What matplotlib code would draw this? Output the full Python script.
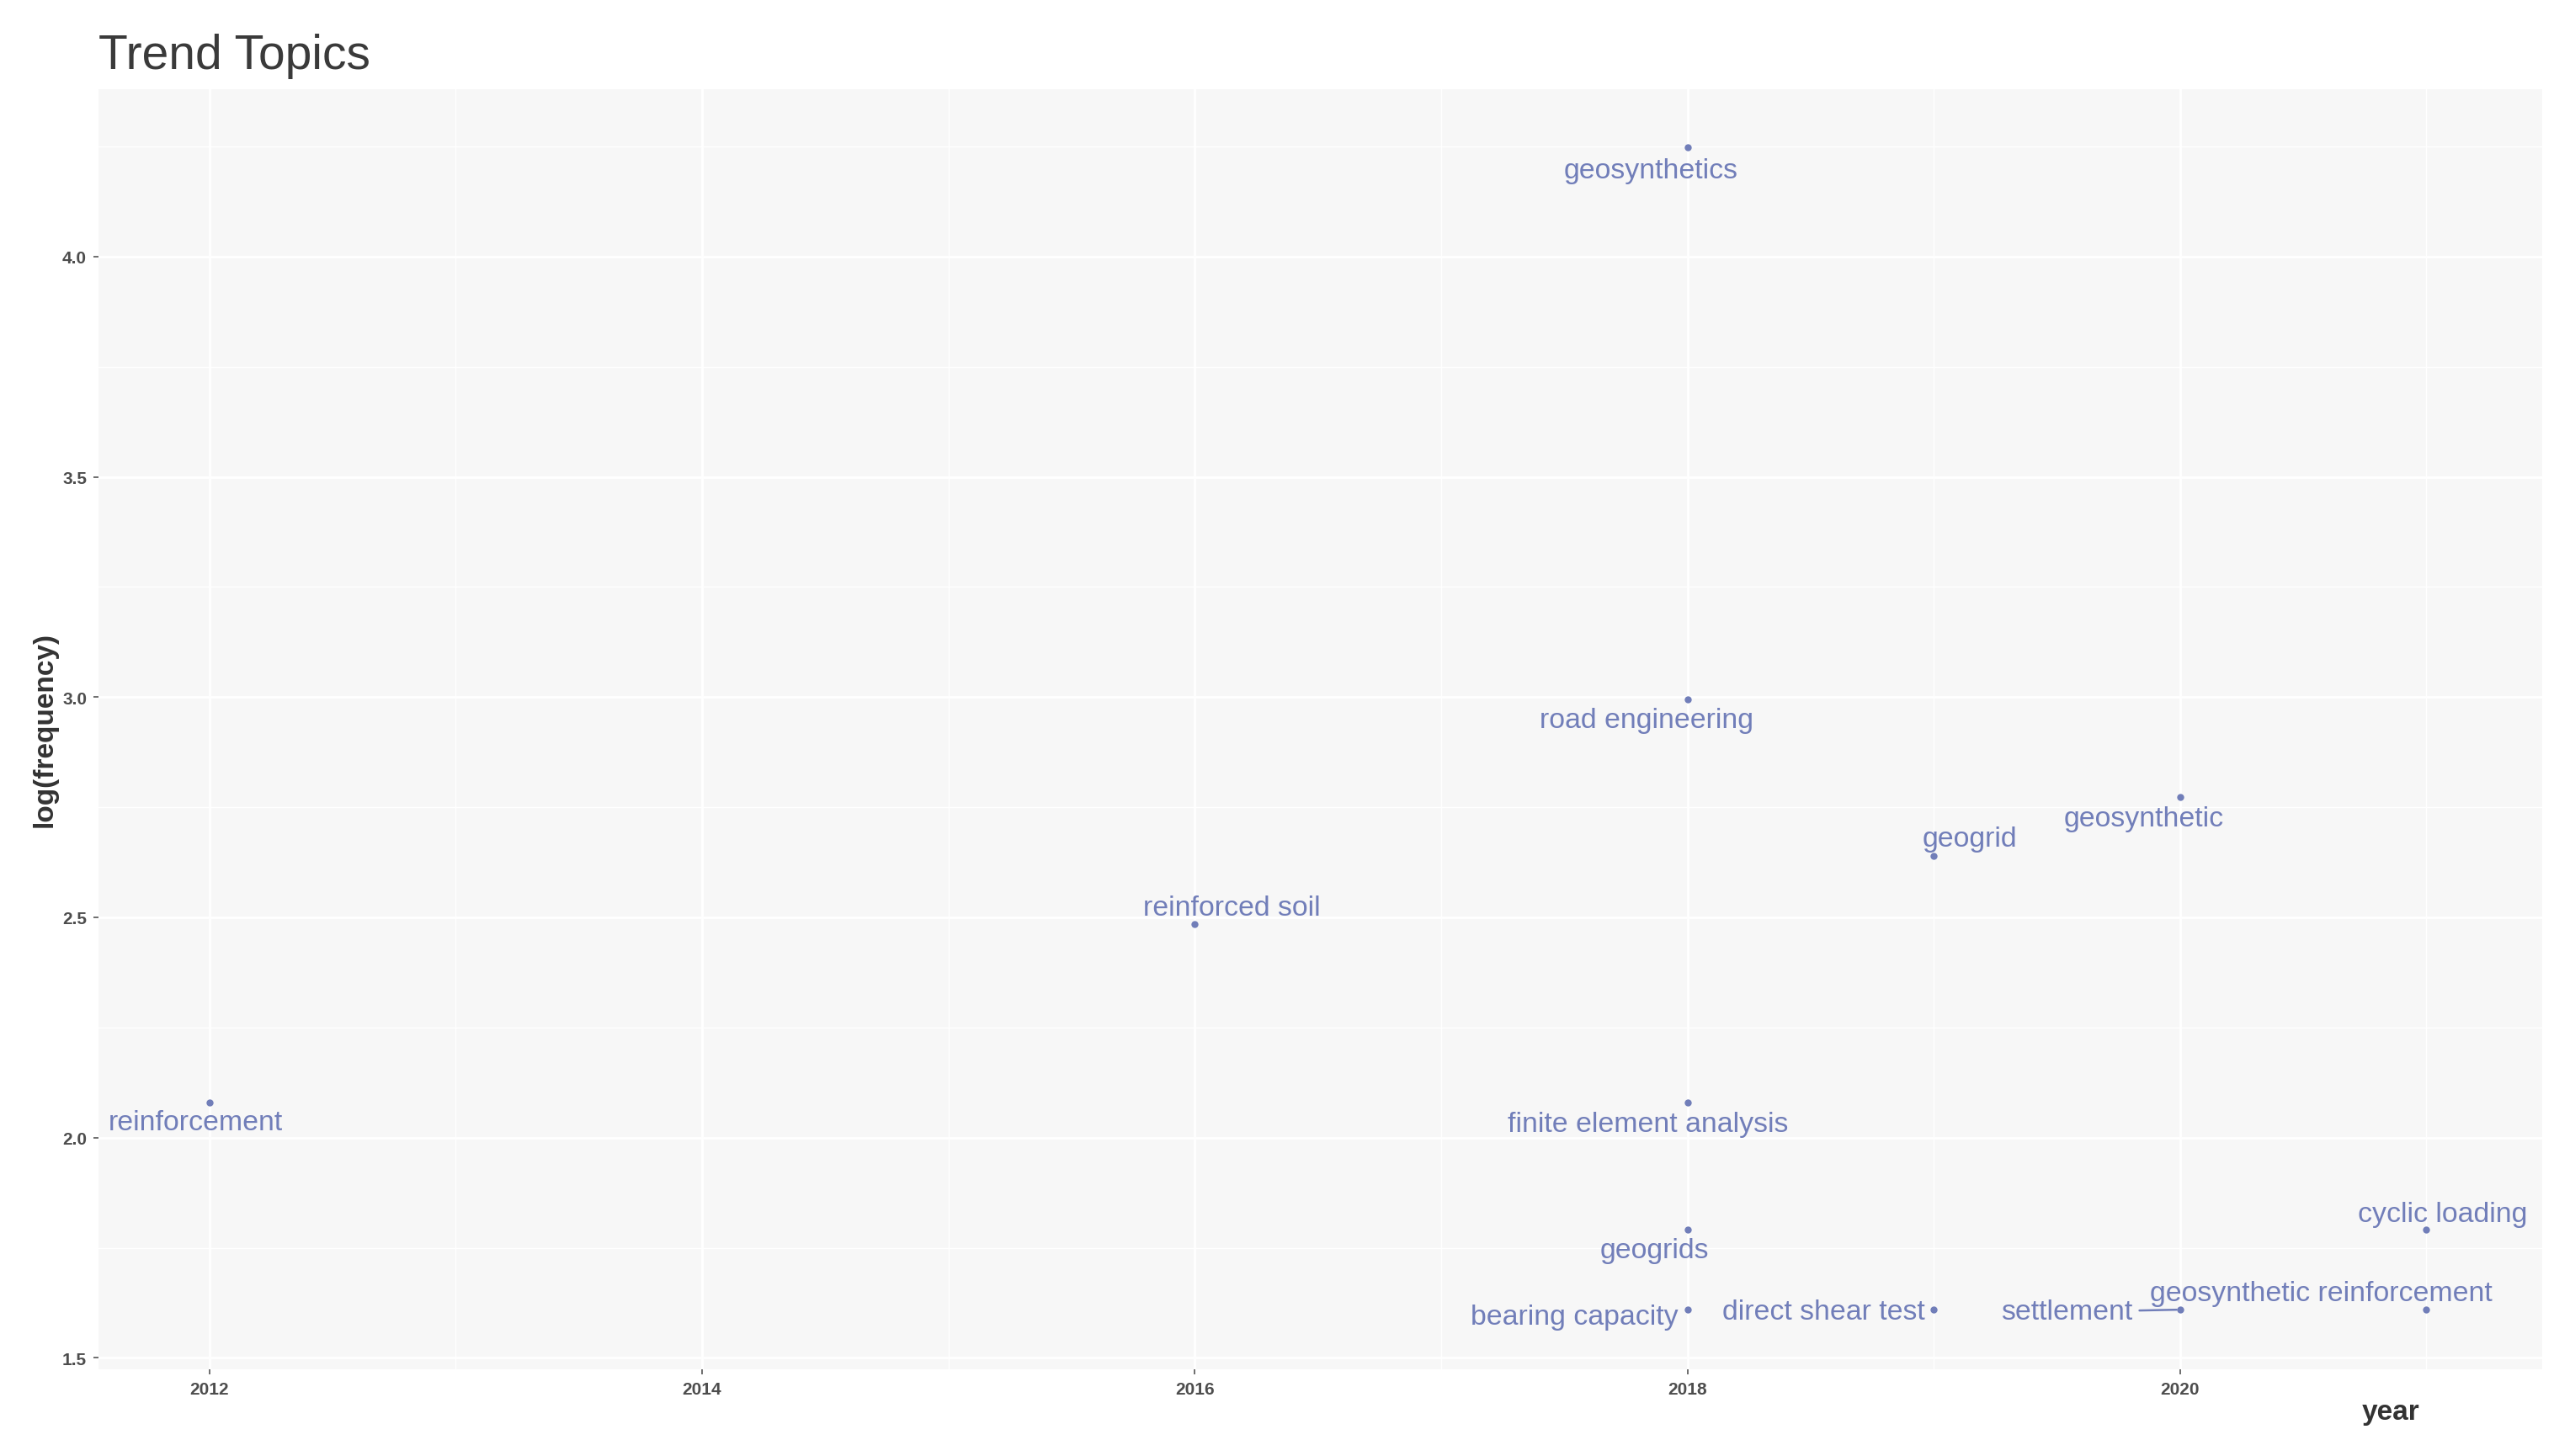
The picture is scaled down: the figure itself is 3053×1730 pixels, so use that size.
import matplotlib.pyplot as plt
import numpy as np

# trend topics: year of median occurrence and term frequency
terms = ['reinforcement', 'reinforced soil', 'geosynthetics', 'road engineering',
         'finite element analysis', 'geogrids', 'bearing capacity', 'direct shear test',
         'geogrid', 'geosynthetic', 'settlement', 'geosynthetic reinforcement', 'cyclic loading']
years = [2012, 2016, 2018, 2018, 2018, 2018, 2018, 2019, 2019, 2020, 2020, 2021, 2021]
freqs = [8, 12, 70, 20, 8, 6, 5, 5, 14, 16, 5, 5, 6]

x_ticks = [2012, 2014, 2016, 2018, 2020]
y_ticks = [1.5, 2.0, 2.5, 3.0, 3.5, 4.0]

# label offsets (points) as placed by the repel layout in the original
label_offsets = {
    'reinforcement': (-6, -8.5),
    'reinforced soil': (16, 7),
    'geosynthetics': (-15.5, -10),
    'road engineering': (-17.5, -9),
    'finite element analysis': (-17, -9),
    'geogrids': (-14, -9),
    'bearing capacity': (-48.5, -3),
    'direct shear test': (-47, -1),
    'geogrid': (15.5, 7.5),
    'geosynthetic': (-15.5, -9),
    'settlement': (-48.5, -1),
    'geosynthetic reinforcement': (-45, 7),
    'cyclic loading': (7, 6.5),
}

col = '#717eb9'
plt.rcParams['font.family'] = ['Liberation Sans', 'DejaVu Sans']

W, H, DPI = 3053, 1731, 200
fig = plt.figure(figsize=(W / DPI, H / DPI), dpi=DPI)
ax = fig.add_axes([117 / W, 1 - 1628 / H, (3020 - 117) / W, (1628 - 107) / H])
ax.set_facecolor('#f7f7f7')

logf = np.log(freqs)
ax.scatter(years, logf, s=9, color=col, zorder=3, linewidths=0)

for t, x, y in zip(terms, years, logf):
    dx, dy = label_offsets[t]
    kw = {}
    if t == 'settlement':
        kw['arrowprops'] = dict(arrowstyle='-', color=col, lw=0.9, shrinkA=1, shrinkB=1.5)
    ax.annotate(t, (x, y), xytext=(dx, dy), textcoords='offset points',
                ha='center', va='center', fontsize=12.2, color=col, zorder=4, **kw)

ax.set_xticks(x_ticks)
ax.set_yticks(y_ticks)
ax.set_xticks(np.arange(2013, 2022, 2), minor=True)
ax.set_yticks(np.arange(1.75, 4.3, 0.5), minor=True)
ax.set_yticklabels([f'{v:.1f}' for v in y_ticks])
ax.set_xlim(2011.55, 2021.47)
ax.set_ylim(1.474, 4.38)
ax.grid(True, which='major', color='white', lw=1.0)
ax.grid(True, which='minor', color='white', lw=0.5)
ax.set_axisbelow(True)
for s in ax.spines.values():
    s.set_visible(False)
ax.tick_params(which='major', length=2, width=0.6, color='#555555', pad=3,
               labelsize=7.5, labelcolor='#4d4d4d')
ax.tick_params(which='minor', length=0)
for lab in ax.get_xticklabels() + ax.get_yticklabels():
    lab.set_fontweight('bold')

ax.set_ylabel('log(frequency)', fontsize=12, fontweight='bold', color='#333333')
ax.yaxis.set_label_coords(-48 / (3020 - 117), 0.5)
ax.text(0.938, -51 / (1628 - 107), 'year', transform=ax.transAxes, ha='center', va='center',
        fontsize=12, fontweight='bold', color='#333333')

fig.text(117 / W, 1 - 82 / H, 'Trend Topics', fontsize=20.5, color='#3a3a3a',
         ha='left', va='baseline')

fig.savefig('out.png', dpi=DPI, facecolor='white')
